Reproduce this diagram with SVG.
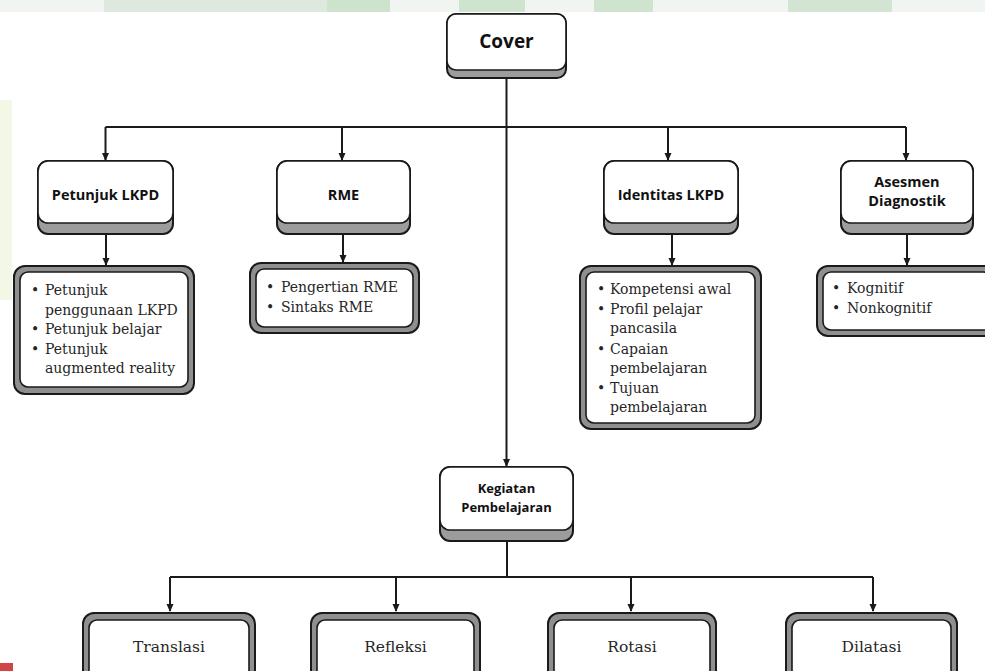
<svg xmlns="http://www.w3.org/2000/svg" width="985" height="671" viewBox="0 0 985 671">
<style>
.bg{fill:#ffffff}
.face{fill:#ffffff;stroke:#1a1a1a;stroke-width:1.6}
.base{fill:#9c9c9c;stroke:#1a1a1a;stroke-width:2}
.frame{fill:#8f8f8f;stroke:#1a1a1a;stroke-width:2}
.inner{fill:#ffffff;stroke:#1a1a1a;stroke-width:1.6}
.title{font-family:"Open Sans","DejaVu Sans",sans-serif;font-weight:bold;font-size:14.5px;fill:#111;text-anchor:middle}
.item{font-family:"DejaVu Serif","Liberation Serif",serif;font-size:14px;fill:#262626}
.leaf{font-family:"DejaVu Serif","Liberation Serif",serif;font-size:15.5px;fill:#262626;text-anchor:middle}
.conn{fill:none;stroke:#1a1a1a;stroke-width:2}
</style>
<defs>
<marker id="arr" viewBox="0 0 8 8" refX="7" refY="4" markerWidth="8" markerHeight="8" markerUnits="userSpaceOnUse" orient="auto">
<path d="M0,0.5 L8,4 L0,7.5 z" fill="#1a1a1a"/>
</marker>
</defs>
<rect class="bg" x="0" y="0" width="985" height="671"/>
<g id="watermark">
<rect x="0" y="0" width="985" height="12" fill="#f1f5f1"/>
<rect x="104" y="0" width="223" height="12" fill="#dfe8de"/>
<rect x="327" y="0" width="63" height="12" fill="#cde3cc"/>
<rect x="459" y="0" width="66" height="12" fill="#cfe4cf"/>
<rect x="594" y="0" width="59" height="12" fill="#cfe4cf"/>
<rect x="788" y="0" width="104" height="12" fill="#d3e5d2"/>
<rect x="0" y="100" width="12" height="200" fill="#f3f7e6"/>
<rect x="0" y="663" width="13" height="8" fill="#d04545"/>
</g>
<g id="connectors">
<path class="conn" d="M506.5,78 V466" marker-end="url(#arr)"/>
<path class="conn" d="M105.5,127 H906"/>
<path class="conn" d="M105.5,127 V160" marker-end="url(#arr)"/>
<path class="conn" d="M342,127 V160" marker-end="url(#arr)"/>
<path class="conn" d="M668,127 V160" marker-end="url(#arr)"/>
<path class="conn" d="M906,127 V160" marker-end="url(#arr)"/>
<path class="conn" d="M106,234 V265" marker-end="url(#arr)"/>
<path class="conn" d="M343,234 V262" marker-end="url(#arr)"/>
<path class="conn" d="M672,234 V265" marker-end="url(#arr)"/>
<path class="conn" d="M907,234 V265" marker-end="url(#arr)"/>
<path class="conn" d="M507,541 V577"/>
<path class="conn" d="M170,577 H873"/>
<path class="conn" d="M170,577 V611" marker-end="url(#arr)"/>
<path class="conn" d="M396,577 V611" marker-end="url(#arr)"/>
<path class="conn" d="M631,577 V611" marker-end="url(#arr)"/>
<path class="conn" d="M873,577 V611" marker-end="url(#arr)"/>
</g>
<g id="cover">
<rect class="base" x="447" y="14" width="119" height="64" rx="9"/>
<rect class="face" x="447" y="14" width="119" height="56" rx="9"/>
<text class="title" x="506.5" y="48" style="font-size:19px">Cover</text>
</g>
<g id="petunjuk-lkpd">
<rect class="base" x="38" y="161" width="135" height="73" rx="10"/>
<rect class="face" x="38" y="161" width="135" height="62" rx="10"/>
<text class="title" x="105.5" y="200">Petunjuk LKPD</text>
</g>
<g id="rme">
<rect class="base" x="277" y="161" width="133" height="73" rx="10"/>
<rect class="face" x="277" y="161" width="133" height="62" rx="10"/>
<text class="title" x="343.5" y="200">RME</text>
</g>
<g id="identitas-lkpd">
<rect class="base" x="604" y="161" width="134" height="73" rx="10"/>
<rect class="face" x="604" y="161" width="134" height="62" rx="10"/>
<text class="title" x="671" y="200">Identitas LKPD</text>
</g>
<g id="asesmen-diagnostik">
<rect class="base" x="841" y="161" width="132" height="73" rx="10"/>
<rect class="face" x="841" y="161" width="132" height="62" rx="10"/>
<text class="title" x="907" y="187">Asesmen</text>
<text class="title" x="907" y="206">Diagnostik</text>
</g>
<g id="petunjuk-list">
<rect class="frame" x="14" y="266" width="180" height="128" rx="11"/>
<rect class="inner" x="20" y="272" width="168" height="115" rx="8"/>
<text class="item" x="31" y="295">•</text>
<text class="item" x="45" y="295">Petunjuk</text>
<text class="item" x="45" y="315">penggunaan LKPD</text>
<text class="item" x="31" y="334">•</text>
<text class="item" x="45" y="334">Petunjuk belajar</text>
<text class="item" x="31" y="354">•</text>
<text class="item" x="45" y="354">Petunjuk</text>
<text class="item" x="45" y="373">augmented reality</text>
</g>
<g id="rme-list">
<rect class="frame" x="250" y="263" width="169" height="70" rx="11"/>
<rect class="inner" x="256" y="269" width="157" height="58" rx="8"/>
<text class="item" x="266" y="292">•</text>
<text class="item" x="281" y="292">Pengertian RME</text>
<text class="item" x="266" y="312">•</text>
<text class="item" x="281" y="312">Sintaks RME</text>
</g>
<g id="identitas-list">
<rect class="frame" x="580" y="266" width="181" height="163" rx="11"/>
<rect class="inner" x="586" y="272" width="169" height="151" rx="8"/>
<text class="item" x="597" y="294">•</text>
<text class="item" x="610" y="294">Kompetensi awal</text>
<text class="item" x="597" y="314">•</text>
<text class="item" x="610" y="314">Profil pelajar</text>
<text class="item" x="610" y="333">pancasila</text>
<text class="item" x="597" y="354">•</text>
<text class="item" x="610" y="354">Capaian</text>
<text class="item" x="610" y="373">pembelajaran</text>
<text class="item" x="597" y="393">•</text>
<text class="item" x="610" y="393">Tujuan</text>
<text class="item" x="610" y="412">pembelajaran</text>
</g>
<g id="asesmen-list">
<rect class="frame" x="817" y="266" width="180" height="70" rx="11"/>
<rect class="inner" x="823" y="272" width="168" height="58" rx="8"/>
<text class="item" x="832" y="293">•</text>
<text class="item" x="847" y="293">Kognitif</text>
<text class="item" x="832" y="313">•</text>
<text class="item" x="847" y="313">Nonkognitif</text>
</g>
<g id="kegiatan-pembelajaran">
<rect class="base" x="440" y="467" width="133" height="74" rx="10"/>
<rect class="face" x="440" y="467" width="133" height="63" rx="10"/>
<text class="title" x="506.5" y="493" style="font-size:13px">Kegiatan</text>
<text class="title" x="506.5" y="512" style="font-size:13px">Pembelajaran</text>
</g>
<g id="translasi">
<rect class="frame" x="83" y="613" width="172" height="80" rx="11"/>
<rect class="inner" x="89" y="620" width="160" height="70" rx="8"/>
<text class="leaf" x="169" y="652">Translasi</text>
</g>
<g id="refleksi">
<rect class="frame" x="311" y="613" width="169" height="80" rx="11"/>
<rect class="inner" x="317" y="620" width="157" height="70" rx="8"/>
<text class="leaf" x="395.5" y="652">Refleksi</text>
</g>
<g id="rotasi">
<rect class="frame" x="548" y="613" width="168" height="80" rx="11"/>
<rect class="inner" x="554" y="620" width="156" height="70" rx="8"/>
<text class="leaf" x="632" y="652">Rotasi</text>
</g>
<g id="dilatasi">
<rect class="frame" x="786" y="613" width="171" height="80" rx="11"/>
<rect class="inner" x="792" y="620" width="159" height="70" rx="8"/>
<text class="leaf" x="871.5" y="652">Dilatasi</text>
</g>
</svg>
